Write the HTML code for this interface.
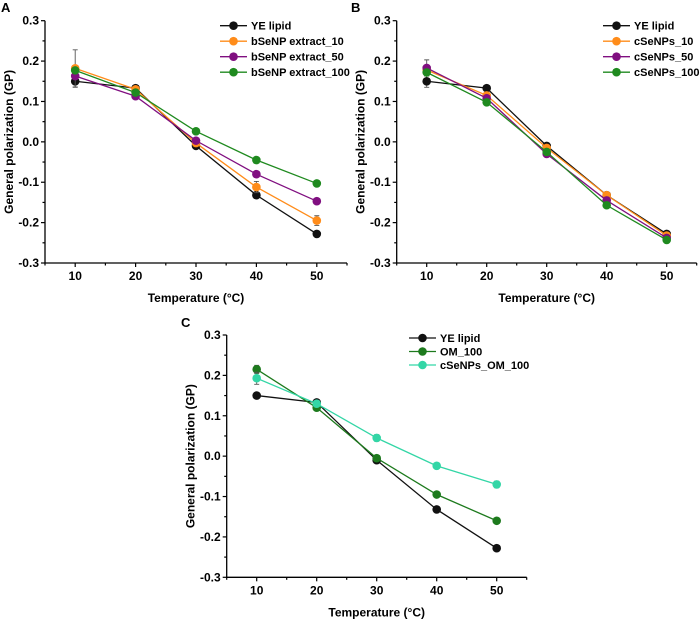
<!DOCTYPE html>
<html><head><meta charset="utf-8"><style>
html,body{margin:0;padding:0;background:#fff;}
svg{display:block;font-family:"Liberation Sans",Arial,sans-serif;font-weight:bold;}
</style></head><body>
<svg id="fig" width="700" height="620" viewBox="0 0 700 620"></svg>
<script>
const xCats = [10, 20, 30, 40, 50];
const yTicks = [-0.3, -0.2, -0.1, 0.0, 0.1, 0.2, 0.3];
const yTickLabels = ["-0.3", "-0.2", "-0.1", "0.0", "0.1", "0.2", "0.3"];
const ye = [0.150, 0.133, -0.010, -0.132, -0.228];
const yeErr = [0.015, 0.006, 0.006, 0.004, 0.004];
const bA10 = [0.182, 0.130, -0.003, -0.112, -0.195];
const bA10Err = [0.046, 0.006, 0.006, 0.014, 0.012];
const bA50 = [0.163, 0.113, 0.003, -0.080, -0.147];
const bA100 = [0.177, 0.122, 0.026, -0.045, -0.103];
const c10 = [0.178, 0.115, -0.015, -0.132, -0.232];
const c50 = [0.183, 0.108, -0.030, -0.145, -0.238];
const c50Err = [0.020, 0.006, 0.006, 0.008, 0.004];
const c100 = [0.172, 0.098, -0.025, -0.157, -0.243];
const om100 = [0.215, 0.120, -0.005, -0.095, -0.160];
const om100Err = [0.010, 0.006, 0.004, 0.004, 0.004];
const cOm = [0.193, 0.130, 0.045, -0.024, -0.070];
const cOmErr = [0.015, 0.008, 0.008, 0.006, 0.008];
const zeroErr = [0, 0, 0, 0, 0];

const NS = "http://www.w3.org/2000/svg";
const svg = document.getElementById("fig");
function mk(tag, attrs, parent) {
  const e = document.createElementNS(NS, tag);
  for (const k in attrs) e.setAttribute(k, attrs[k]);
  (parent || svg).appendChild(e);
  return e;
}

function panel(cfg) {
  const g = mk("g", {});
  
  
  const X = v => cfg.x0 + (v - 5) * (cfg.x1 - cfg.x0) / 50;
  const Y = v => cfg.yb + (v + 0.3) * (cfg.yt - cfg.yb) / 0.6;
  const ax = mk("path", {d: `M${cfg.x0},${cfg.yt} V${cfg.yb} H${cfg.x1}`, stroke: "#000", "stroke-width": 1.3, fill: "none"}, g);
  
  
  for (let v = 5; v <= 55; v += 5) {
    const major = xCats.indexOf(v) >= 0;
    mk("line", {x1: X(v), x2: X(v), y1: cfg.yb, y2: cfg.yb + (major ? 4 : 2.5), stroke: "#000", "stroke-width": 1.2}, g);
  }
  xCats.forEach(v => {
    const t = mk("text", {x: X(v), y: cfg.yb + 17, "font-size": 12, "text-anchor": "middle"}, g);
    t.textContent = v;
    
    
  });
  for (let i = -6; i <= 6; i++) {
    const v = i * 0.05;
    const major = i % 2 === 0;
    mk("line", {x1: cfg.x0, x2: cfg.x0 - (major ? 4 : 2.5), y1: Y(v), y2: Y(v), stroke: "#000", "stroke-width": 1.2}, g);
  }
  yTicks.forEach((v, i) => {
    const t = mk("text", {x: cfg.x0 - 6, y: Y(v) + 4, "font-size": 12, "text-anchor": "end"}, g);
    t.textContent = yTickLabels[i];
    
    
  });
  const xt = mk("text", {x: (X(5) + X(55)) / 2, y: cfg.yb + 39, "font-size": 12, "text-anchor": "middle"}, g);
  xt.textContent = "Temperature (°C)";
  
  
  const ym = (cfg.yt + cfg.yb) / 2;
  const yt = mk("text", {x: cfg.x0 - 32, y: ym, "font-size": 12, "text-anchor": "middle", transform: `rotate(-90 ${cfg.x0 - 32} ${ym})`}, g);
  yt.textContent = "General polarization (GP)";
  
  
  const pl = mk("text", {x: cfg.lx, y: cfg.ly, "font-size": 13}, g);
  pl.textContent = cfg.letter;
  
  
  cfg.series.forEach(s => {
    const sg = mk("g", {}, g);
    
    
    s.vals.forEach((v, i) => {
      const e = s.err[i];
      if (e > 0) {
        mk("path", {d: `M${X(xCats[i])},${Y(v - e)} V${Y(v + e)} M${X(xCats[i]) - 2.5},${Y(v + e)} h5 M${X(xCats[i]) - 2.5},${Y(v - e)} h5`, stroke: "#555", "stroke-width": 0.9, fill: "none"}, sg);
      }
    });
    const ln = mk("polyline", {points: s.vals.map((v, i) => X(xCats[i]) + "," + Y(v)).join(" "), fill: "none", stroke: s.color, "stroke-width": 1.3}, sg);
    
    
    s.vals.forEach((v, i) => {
      const c = mk("circle", {cx: X(xCats[i]), cy: Y(v), r: 4.3, fill: s.color}, sg);
      
      
    });
  });
  cfg.series.forEach((s, i) => {
    const ly = cfg.legY + i * cfg.legDy;
    const lg = mk("g", {}, g);
    
    
    mk("line", {x1: cfg.legX, x2: cfg.legX + 27, y1: ly, y2: ly, stroke: s.color, "stroke-width": 1.3}, lg);
    mk("circle", {cx: cfg.legX + 13.5, cy: ly, r: 4.3, fill: s.color}, lg);
    const t = mk("text", {x: cfg.legX + 31, y: ly + 4, "font-size": 11}, lg);
    t.textContent = s.label;
  });
}

const BLACK = "#111", ORANGE = "#ff8c1a", PURPLE = "#800f80", GREEN = "#1f8a1f", DGREEN = "#1d7a1d", TEAL = "#33d6a6";

panel({name: "panel-a", letter: "A", lx: 1, ly: 12, x0: 45, x1: 347, yt: 20.7, yb: 263, legX: 220, legY: 25.7, legDy: 15.5,
  series: [
    {label: "YE lipid", vals: ye, err: yeErr, color: BLACK},
    {label: "bSeNP extract_10", vals: bA10, err: bA10Err, color: ORANGE},
    {label: "bSeNP extract_50", vals: bA50, err: zeroErr, color: PURPLE},
    {label: "bSeNP extract_100", vals: bA100, err: zeroErr, color: GREEN}
  ]});
panel({name: "panel-b", letter: "B", lx: 351, ly: 12, x0: 396.7, x1: 696.7, yt: 20.7, yb: 263, legX: 603, legY: 25.7, legDy: 15.5,
  series: [
    {label: "YE lipid", vals: ye, err: yeErr, color: BLACK},
    {label: "cSeNPs_10", vals: c10, err: zeroErr, color: ORANGE},
    {label: "cSeNPs_50", vals: c50, err: c50Err, color: PURPLE},
    {label: "cSeNPs_100", vals: c100, err: zeroErr, color: GREEN}
  ]});
panel({name: "panel-c", letter: "C", lx: 181, ly: 327, x0: 226.7, x1: 526.7, yt: 335, yb: 577.3, legX: 409, legY: 338, legDy: 13.5,
  series: [
    {label: "YE lipid", vals: ye, err: zeroErr, color: BLACK},
    {label: "OM_100", vals: om100, err: om100Err, color: DGREEN},
    {label: "cSeNPs_OM_100", vals: cOm, err: cOmErr, color: TEAL}
  ]});
</script>
</body></html>
